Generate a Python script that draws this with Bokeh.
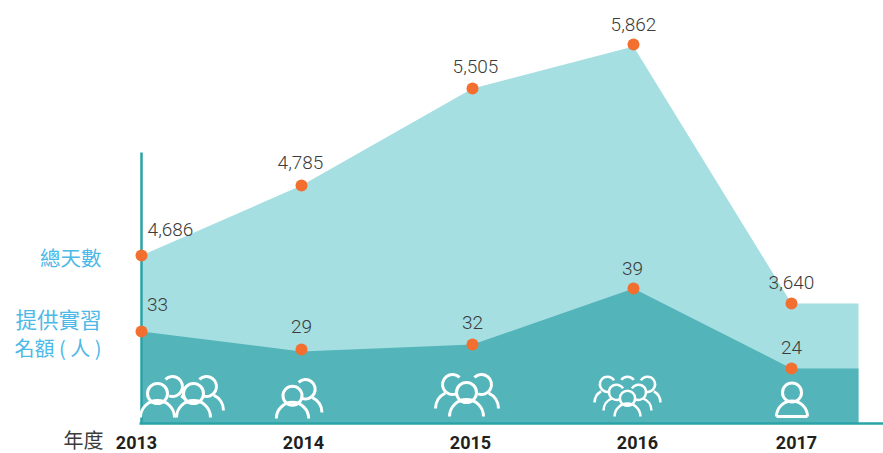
from bokeh.plotting import figure
from bokeh.models import Range1d
from bokeh.core.properties import value
from bokeh.embed import file_html
from bokeh.resources import INLINE

years = ["2013", "2014", "2015", "2016", "2017"]
total_days = ["4,686", "4,785", "5,505", "5,862", "3,640"]
places = ["33", "29", "32", "39", "24"]
# The source chart is not drawn to a true scale: levels are read off the picture.
year_pos = [141, 301, 472, 633, 791]
year_end = 858
total_level = [168, 238, 335, 379, 120]
total_edge = [168, 238, 335, 377, 120]
places_level = [92, 74, 79, 135, 55]
places_edge = [92, 72, 79, 135, 55]

year_label_pos = [136, 303, 470, 637, 796]
TEAL_L, TEAL_D, LINE, DOT = "#a5dfe1", "#53b4b9", "#2aa3a8", "#f36f2f"
BLUE, GREY = "#4cb9e6", "#3c3c3c"

p = figure(width=883, height=453, output_backend="svg", toolbar_location=None,
           x_range=Range1d(0, 883), y_range=Range1d(-30, 423), min_border=0,
           outline_line_color=None, background_fill_color="white")
p.axis.visible = False
p.grid.visible = False

xs = year_pos + [year_end]
p.varea(xs, [0] * 6, total_edge + [total_edge[-1]], fill_color=TEAL_L)
p.varea(xs, [0] * 6, places_edge + [places_edge[-1]], fill_color=TEAL_D)

p.segment([141, 139], [0, 0], [141, 883], [271, 0], line_color=LINE, line_width=2.5)

p.scatter(year_pos, total_level, size=12, color=DOT, line_color=None)
p.scatter(year_pos, places_level, size=12, color=DOT, line_color=None)

num = dict(text_font=value("Roboto Light"), text_font_size="19px", text_color=GREY,
           text_align="center", text_baseline="middle")
p.text([170, 300, 475, 633, 791], [194, 261, 357, 399, 141], text=total_days, **num)
p.text([157, 301, 472, 632, 791], [119, 97, 101, 155, 76], text=places, **num)
p.text(year_label_pos, [-19] * 5, text=years, text_font=value("Roboto"), text_font_style="bold",
       text_font_size="18px", text_color="#231f20", text_align="center", text_baseline="middle")

cjk = dict(text_font=value("Noto Sans CJK TC"), text_align="right", text_baseline="middle")
p.text([101], [167], text=["總天數"], text_font_size="20.5px", text_color=BLUE, **cjk)
p.text([101], [105], text=["提供實習"], text_font_size="21.5px", text_color=BLUE, **cjk)
p.text([101], [76], text=["名額 ( 人 )"], text_font_size="20px", text_color=BLUE, **cjk)
p.text([103], [-15.5], text=["年度"], text_font_size="20px", text_color=GREY, **cjk)


def arc(cx, cy, r, a, b, w):
    p.arc([cx], [cy], radius=r, start_angle=a, end_angle=b, start_angle_units="deg",
          end_angle_units="deg", line_color="white", line_width=w)


def person(cx, base, s=1.0, head=(0, 360), body=(0, 180), w=3):
    """One outline figure: head ring and shoulder arc, in the chart's pixel-like units."""
    arc(cx, base + 24 * s, 10 * s, head[0], head[1], w)
    if body:
        arc(cx, base, 17 * s, body[0], body[1], w)


BACK_R = dict(head=(-110, 135), body=(0, 65))
BACK_L = dict(head=(45, 290), body=(115, 180))

# 2013
person(172, 13, head=(-110, 135), body=(25, 60))
person(206, 13, **BACK_R)
person(157, 6)
person(193, 6)
# 2014
person(305, 11, .97, **BACK_R)
person(292, 5, .95)
# 2015
person(452, 15, **BACK_L)
person(481, 15, **BACK_R)
person(466, 7)
# 2016
small = .76
person(607, 21, small, head=(30, 290), body=(120, 180), w=2.5)
person(627, 21, small, head=(35, 145), body=None, w=2.5)
person(647, 21, small, head=(-110, 150), body=(0, 60), w=2.5)
person(616, 13, small, head=(30, 300), body=(110, 180), w=2.5)
person(638, 13, small, head=(-120, 150), body=(0, 70), w=2.5)
person(627, 7, small, w=2.5)
# 2017
arc(791.5, 31, 9.5, 0, 360, 3)
arc(791.5, 7, 15.5, 0, 180, 3)
p.segment([776], [7], [807], [7], line_color="white", line_width=3)

open("out.html", "w").write(file_html(p, INLINE))
